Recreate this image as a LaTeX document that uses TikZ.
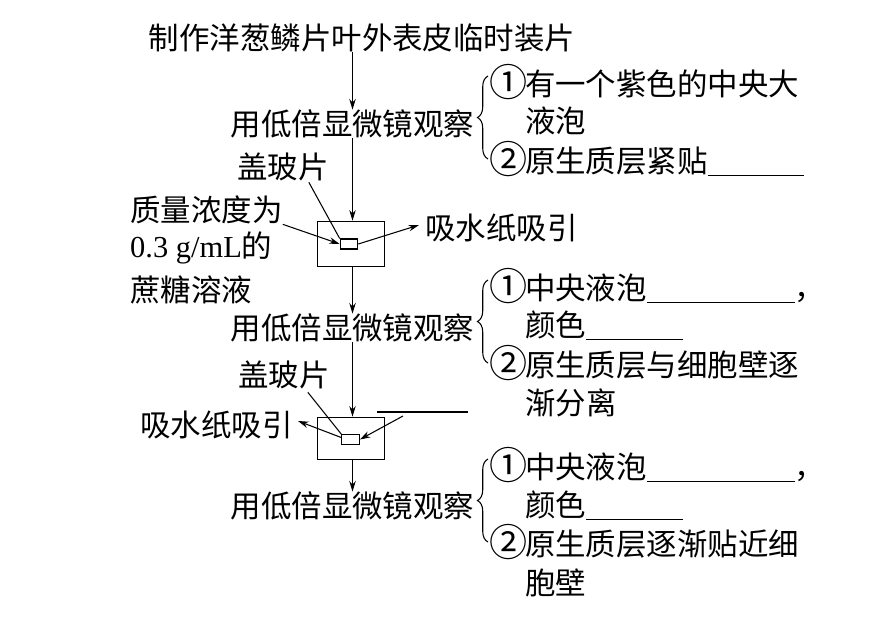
\documentclass[tikz,border=0pt]{standalone}
\usepackage{fontspec}
\setmainfont{Noto Sans CJK SC}
\newfontfamily\latinfont{Liberation Serif}
\usetikzlibrary{positioning,calc,arrows.meta,decorations.pathreplacing}
\newcommand{\itemno}[1]{\makebox[28pt]{\raisebox{-1pt}{\scalebox{1.25}{#1}}}}

\begin{document}
\begin{tikzpicture}[x=0.03cm,y=-0.03cm,
  txt/.style={inner sep=0pt,font=\fontsize{26}{30}\selectfont},
  arr/.style={-{Stealth[length=9pt,width=5.5pt]},line width=0.9pt},
  ln/.style={line width=0.9pt},
  brc/.style={decorate,decoration={brace,amplitude=9pt},line width=0.9pt},
  slide/.style={draw,line width=0.9pt,minimum width=57pt,inner sep=0pt},
  cover/.style={draw,line width=0.9pt,minimum width=15pt,minimum height=8.5pt,inner sep=0pt}]
\useasboundingbox (0,0) rectangle (873,617);

% main flow
\node[txt] (title) at (362,38) {制作洋葱鳞片叶外表皮临时装片};
\node[txt] (obs1) at (352.5,124) {用低倍显微镜观察};
\node[slide,minimum height=39pt] (box1) at (351,244) {};
\node[cover] (cov1) at (349,244) {};
\node[txt] (obs2) at (352.5,328) {用低倍显微镜观察};
\node[slide,minimum height=36.5pt] (box2) at (351,438.5) {};
\node[cover] (cov2) at (350.5,439.5) {};
\node[txt] (obs3) at (352.5,506) {用低倍显微镜观察};

\draw[arr] (title.south -| obs1) -- (obs1.north);
\draw[arr] (obs1.south) -- (box1.north -| obs1);
\draw[arr] (box1.south -| obs1) -- (obs2.north);
\draw[arr] (obs2.south) -- (box2.north -| obs2);
\draw[arr] (box2.south -| obs2) -- (obs3.north);

% first slide
\node[txt,anchor=west] (glass1) at (237,167) {盖玻片};
\node[txt,anchor=west] (sol1) at (130,210) {质量浓度为};
\node[txt,anchor=west] (sol2) at (130,248) {{\latinfont 0.3 g/mL}的};
\node[txt,anchor=west] (sol3) at (130,290) {蔗糖溶液};
\node[txt,anchor=west] (paper1) at (425,228) {吸水纸吸引};
\draw[ln] ($(glass1.south east)+(-20,1)$) -- (cov1.north west);
\draw[arr] (sol1.south east) -- (cov1.west);
\draw[arr] (cov1.east) -- ($(paper1.west)+(-6,-3)$);

% second slide
\node[txt,anchor=west] (glass2) at (238,375) {盖玻片};
\node[txt,anchor=east] (paper2) at (293,425) {吸水纸吸引};
\coordinate (dropL) at (377,412);
\coordinate (dropR) at (468,412);
\coordinate (dropA) at (403,416);
\draw[ln] ($(glass2.south east)+(-22,3)$) -- (cov2.north west);
\draw[arr] ($(cov2.west)+(0,-2)$) -- ($(paper2.east)+(5,-4)$);
\draw[ln] (dropL) -- (dropR);
\draw[arr] (dropA) -- (cov2.east);

% results
\node[txt,anchor=west] (a1) at (492,82) {\itemno{①}有一个紫色的中央大};
\node[txt,anchor=west] (a2) at (525,121) {液泡};
\node[txt,anchor=west] (a3) at (492,159) {\itemno{②}原生质层紧贴\rule[-3pt]{82pt}{0.8pt}};
\draw[brc] ($(a3.west)+(-4,0)$) -- ($(a1.west)+(-4,-6)$);

\node[txt,anchor=west] (b1) at (492,286) {\itemno{①}中央液泡\rule[-3pt]{126pt}{0.8pt}，};
\node[txt,anchor=west] (b2) at (525,325) {颜色\rule[-3pt]{82.5pt}{0.8pt}};
\node[txt,anchor=west] (b3) at (492,363) {\itemno{②}原生质层与细胞壁逐};
\node[txt,anchor=west] (b4) at (525,403) {渐分离};
\draw[brc] ($(b3.west)+(-4,0)$) -- ($(b1.west)+(-4,-6)$);

\node[txt,anchor=west] (c1) at (492,465) {\itemno{①}中央液泡\rule[-3pt]{126pt}{0.8pt}，};
\node[txt,anchor=west] (c2) at (525,505) {颜色\rule[-3pt]{82.5pt}{0.8pt}};
\node[txt,anchor=west] (c3) at (492,542) {\itemno{②}原生质层逐渐贴近细};
\node[txt,anchor=west] (c4) at (525,583) {胞壁};
\draw[brc] ($(c3.west)+(-4,0)$) -- ($(c1.west)+(-4,-6)$);
\end{tikzpicture}
\end{document}
